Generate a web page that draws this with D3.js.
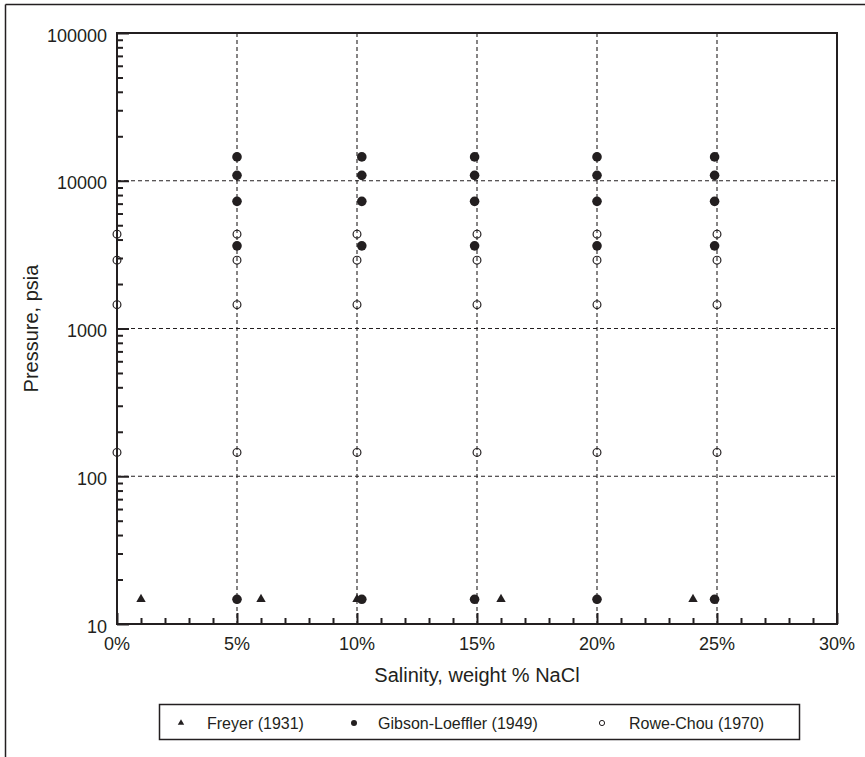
<!DOCTYPE html>
<html>
<head>
<meta charset="utf-8">
<script src="https://cdn.jsdelivr.net/npm/d3@7"></script>
<style>
  html, body { margin: 0; padding: 0; background: #fff; }
  svg { display: block; font-family: "Liberation Sans", Arial, sans-serif; }
</style>
</head>
<body>
<svg id="chart" width="865" height="757"></svg>
<script>
// Freyer (1931): atmospheric-pressure measurements
const freyerSalinity = [1, 6, 10, 16, 24];
const freyerPressure = [14.7, 14.7, 14.7, 14.7, 14.7];

// Gibson-Loeffler (1949)
const gibsonSalinity = [
  5, 5, 5, 5, 5,
  10.2, 10.2, 10.2, 10.2, 10.2,
  14.9, 14.9, 14.9, 14.9, 14.9,
  20, 20, 20, 20, 20,
  24.9, 24.9, 24.9, 24.9, 24.9
];
const gibsonPressure = [
  14.7, 3626, 7252, 10878, 14504,
  14.7, 3626, 7252, 10878, 14504,
  14.7, 3626, 7252, 10878, 14504,
  14.7, 3626, 7252, 10878, 14504,
  14.7, 3626, 7252, 10878, 14504
];

// Rowe-Chou (1970)
const roweSalinity = [
  0, 0, 0, 0,
  5, 5, 5, 5,
  10, 10, 10, 10,
  15, 15, 15, 15,
  20, 20, 20, 20,
  25, 25, 25, 25
];
const rowePressure = [
  145, 1450, 2901, 4351,
  145, 1450, 2901, 4351,
  145, 1450, 2901, 4351,
  145, 1450, 2901, 4351,
  145, 1450, 2901, 4351,
  145, 1450, 2901, 4351
];

// Axis ticks
const xMajorTicks = [0, 5, 10, 15, 20, 25, 30];
const xGridTicks = [5, 10, 15, 20, 25];
const yMajorTicks = [10, 100, 1000, 10000, 100000];
const yGridTicks = [100, 1000, 10000];

const legendNames = ["Freyer (1931)", "Gibson-Loeffler (1949)", "Rowe-Chou (1970)"];

const ink = "#231f20";
const svg = d3.select("#chart");
const plot = { left: 117, top: 33, right: 837, bottom: 624 };

const x = d3.scaleLinear().domain([0, 30]).range([plot.left, plot.right]);
const y = d3.scaleLog().domain([10, 100000]).range([plot.bottom, plot.top]);

// outer frame (top and left edges)
svg.append("line").attr("x1", 5.5).attr("x2", 865).attr("y1", 4.5).attr("y2", 4.5)
  .attr("stroke", ink).attr("stroke-width", 1.5);
svg.append("line").attr("x1", 5.5).attr("x2", 5.5).attr("y1", 4.5).attr("y2", 757)
  .attr("stroke", ink).attr("stroke-width", 1.5);

// dashed grid
const grid = svg.append("g").attr("stroke", ink).attr("stroke-width", 1.1)
  .attr("stroke-dasharray", "4,3");
grid.selectAll(".gx").data(xGridTicks).join("line")
  .attr("x1", d => x(d)).attr("x2", d => x(d))
  .attr("y1", plot.top).attr("y2", plot.bottom);
grid.selectAll(".gy").data(yGridTicks).join("line")
  .attr("x1", plot.left).attr("x2", plot.right)
  .attr("y1", d => y(d)).attr("y2", d => y(d));

// inward-pointing ticks
const xMinor = d3.range(0, 31, 1).filter(d => d % 5 !== 0);
const xAxis = d3.axisBottom(x).tickValues(xMinor).tickSize(-6).tickFormat("");
svg.append("g").attr("transform", `translate(0,${plot.bottom})`).call(xAxis)
  .call(g => g.select(".domain").remove())
  .call(g => g.selectAll("line").attr("stroke", ink).attr("stroke-width", 2));
const xAxisMajor = d3.axisBottom(x).tickValues(xMajorTicks).tickSize(-11).tickFormat("");
svg.append("g").attr("transform", `translate(0,${plot.bottom})`).call(xAxisMajor)
  .call(g => g.select(".domain").remove())
  .call(g => g.selectAll("line").attr("stroke", ink).attr("stroke-width", 2));

const yMinor = [];
for (let e = 1; e < 5; e++) for (let m = 2; m <= 9; m++) yMinor.push(m * Math.pow(10, e));
const yAxisMinor = d3.axisLeft(y).tickValues(yMinor).tickSize(-6).tickFormat("");
svg.append("g").attr("transform", `translate(${plot.left},0)`).call(yAxisMinor)
  .call(g => g.select(".domain").remove())
  .call(g => g.selectAll("line").attr("stroke", ink).attr("stroke-width", 2));
const yAxisMajor = d3.axisLeft(y).tickValues(yMajorTicks).tickSize(-12).tickFormat("");
svg.append("g").attr("transform", `translate(${plot.left},0)`).call(yAxisMajor)
  .call(g => g.select(".domain").remove())
  .call(g => g.selectAll("line").attr("stroke", ink).attr("stroke-width", 2));

// tick labels
svg.append("g").selectAll("text").data(xMajorTicks).join("text")
  .attr("x", d => x(d)).attr("y", plot.bottom + 26)
  .attr("text-anchor", "middle").attr("font-size", 18).attr("fill", ink)
  .text(d => d + "%");
svg.append("g").selectAll("text").data(yMajorTicks).join("text")
  .attr("x", plot.left - 10).attr("y", d => y(d) + 8.5)
  .attr("text-anchor", "end").attr("font-size", 18).attr("fill", ink)
  .text(d => d3.format("d")(d));

// plot frame
svg.append("rect").attr("x", plot.left).attr("y", plot.top)
  .attr("width", plot.right - plot.left).attr("height", plot.bottom - plot.top)
  .attr("fill", "none").attr("stroke", ink).attr("stroke-width", 2);

// axis titles
svg.append("text").attr("x", (plot.left + plot.right) / 2).attr("y", 682)
  .attr("text-anchor", "middle").attr("font-size", 20).attr("fill", ink)
  .text("Salinity, weight % NaCl");
svg.append("text")
  .attr("transform", `translate(38,${(plot.top + plot.bottom) / 2}) rotate(-90)`)
  .attr("text-anchor", "middle").attr("font-size", 20).attr("fill", ink)
  .text("Pressure, psia");

// markers
const tri = d3.symbol().type(d3.symbolTriangle);
svg.append("g").selectAll("path").data(freyerSalinity).join("path")
  .attr("d", tri.size(38)())
  .attr("transform", (d, i) => `translate(${x(d)},${y(freyerPressure[i])})`)
  .attr("fill", ink);

svg.append("g").selectAll("circle").data(gibsonSalinity).join("circle")
  .attr("cx", d => x(d)).attr("cy", (d, i) => y(gibsonPressure[i]))
  .attr("r", 4.8).attr("fill", ink);

svg.append("g").selectAll("circle").data(roweSalinity).join("circle")
  .attr("cx", d => x(d)).attr("cy", (d, i) => y(rowePressure[i]))
  .attr("r", 3.9).attr("fill", "none").attr("stroke", ink).attr("stroke-width", 1.2);

// legend
const lg = svg.append("g");
lg.append("rect").attr("x", 159.5).attr("y", 704.5).attr("width", 640).attr("height", 35)
  .attr("fill", "none").attr("stroke", ink).attr("stroke-width", 1.5);
const ly = 723;
lg.append("path").attr("d", tri.size(18)()).attr("transform", `translate(181,${ly})`).attr("fill", ink);
lg.append("circle").attr("cx", 354).attr("cy", ly).attr("r", 3).attr("fill", ink);
lg.append("circle").attr("cx", 602).attr("cy", ly).attr("r", 2.6)
  .attr("fill", "none").attr("stroke", ink).attr("stroke-width", 1);
const legendX = [207, 378, 629];
lg.selectAll("text").data(legendNames).join("text")
  .attr("x", (d, i) => legendX[i]).attr("y", ly + 6)
  .attr("font-size", 16).attr("fill", ink)
  .text(d => d);
</script>
</body>
</html>
